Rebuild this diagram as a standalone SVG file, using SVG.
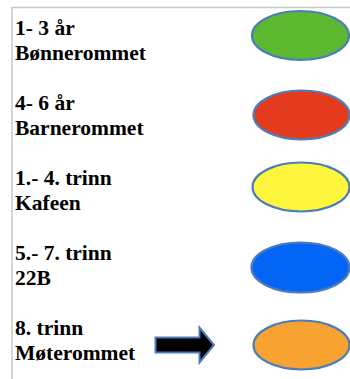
<svg xmlns="http://www.w3.org/2000/svg" width="350" height="379" viewBox="0 0 350 379">
<style>
.t{font-family:"Liberation Serif","Times New Roman",serif;font-weight:bold;font-size:21.5px;fill:#000}
.e{stroke:#4a7ebb;stroke-width:2.2}
.b{stroke:#c8c8c8;stroke-width:1.5;fill:none}
</style>
<rect width="350" height="379" fill="#fff"/>
<path class="b" d="M12 379V7.5H350"/>
<g id="n1"><text class="t" x="15" y="35">1- 3 år</text><text class="t" x="15" y="59.5">Bønnerommet</text><ellipse class="e" cx="300.5" cy="35.5" rx="48.5" ry="24.5" fill="#5cb82e"/></g>
<g id="n2"><text class="t" x="15" y="110">4- 6 år</text><text class="t" x="15" y="134.5">Barnerommet</text><ellipse class="e" cx="301.5" cy="115" rx="48" ry="24.5" fill="#e43b1f"/></g>
<g id="n3"><text class="t" x="15" y="185">1.- 4. trinn</text><text class="t" x="15" y="209.5">Kafeen</text><ellipse class="e" cx="301" cy="187" rx="48.5" ry="24.5" fill="#fef63c"/></g>
<g id="n4"><text class="t" x="15" y="260">5.- 7. trinn</text><text class="t" x="15" y="284.5">22B</text><ellipse class="e" cx="300.5" cy="267.5" rx="49" ry="25" fill="#0265f5"/></g>
<g id="n5"><text class="t" x="15" y="335">8. trinn</text><text class="t" x="15" y="359.5">Møterommet</text><ellipse class="e" cx="301.5" cy="345" rx="48" ry="24.5" fill="#f7a231"/></g>
<g id="connectors"><path d="M155.5 337.5H199.5V327.5L214 345L199.5 362.5V352.5H155.5Z" fill="#000" stroke="#4a7ebb" stroke-width="2" stroke-linejoin="miter"/></g>
</svg>
